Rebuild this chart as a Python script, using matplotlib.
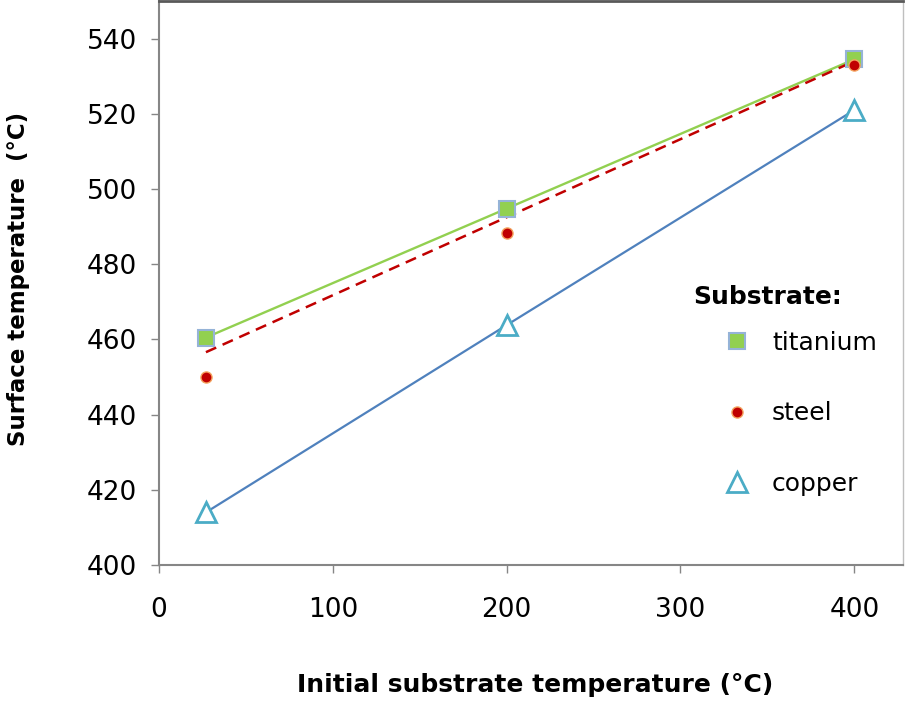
import matplotlib.pyplot as plt
import numpy as np

# substrate temperature (x) and surface temperature (y)
x_init = [27, 200, 400]
titanium = [460.5, 494.8, 534.5]
steel = [450.0, 488.4, 533.0]
copper = [414.0, 463.8, 521.0]

# dashed model line for steel (end points)
steel_line_x = [27, 400]
steel_line_y = [456.6, 534.0]

x_ticks = [0, 100, 200, 300, 400]
y_ticks = [400, 420, 440, 460, 480, 500, 520, 540]

plt.rcParams['font.family'] = ['DejaVu Sans']

fig = plt.figure(figsize=(9.05, 7.01), dpi=100)
ax = fig.add_axes([159 / 905, 136 / 701, 744 / 905, 564 / 701])

# lines
ax.plot(x_init, titanium, color="#92D050", lw=1.7, zorder=2)
ax.plot(steel_line_x, steel_line_y, color="#C00000", lw=1.8, ls=(0, (4.5, 2.8)), zorder=2)
ax.plot(x_init, copper, color="#4F81BD", lw=1.6, zorder=2)

# markers
ax.plot(x_init, titanium, ls="none", marker="s", ms=11, mfc="#92D050",
        mec="#95B3D7", mew=1.5, label="titanium", zorder=3)
ax.plot(x_init, steel, ls="none", marker="o", ms=8, mfc="#C00000",
        mec="#F4A460", mew=1.0, label="steel", zorder=4)
ax.plot(x_init, copper, ls="none", marker="^", ms=14, mfc="white",
        mec="#4BACC6", mew=2.0, label="copper", zorder=3)

ax.set_xlim(0, 428)
ax.set_ylim(400, 550)
ax.set_xticks(x_ticks)
ax.set_yticks(y_ticks)
ax.tick_params(axis="both", direction="out", length=6, width=1, color="#868686",
               labelsize=19, labelcolor="black")
ax.tick_params(axis="x", pad=17)
ax.tick_params(axis="y", pad=10)

for s in ["left", "bottom"]:
    ax.spines[s].set_color("#868686")
    ax.spines[s].set_linewidth(1.5)
ax.spines["top"].set_color("#595959")
ax.spines["top"].set_linewidth(2)
ax.spines["right"].set_color("#BFBFBF")
ax.spines["right"].set_linewidth(1)

ax.set_xlabel("Initial substrate temperature (°C)", fontsize=18, fontweight="bold")
ax.set_ylabel("Surface temperature  (°C)", fontsize=16.5, fontweight="bold")
ax.xaxis.set_label_coords((535 - 159) / 744, -(673 - 565) / 564)
ax.yaxis.set_label_coords(-(159 - 30) / 744, (565 - 279) / 564)

# legend title drawn as plain text, entries via legend
ax.text((693 - 159) / 744, (565 - 297) / 564, "Substrate:", transform=ax.transAxes,
        fontsize=18, fontweight="bold", ha="left", va="center")
leg = ax.legend(loc="upper left", bbox_to_anchor=((712 - 159) / 744, (565 - 331) / 564),
                frameon=False, fontsize=18, labelspacing=1.86, handletextpad=0.4,
                borderpad=0, borderaxespad=0)

fig.savefig("out.png", dpi=100)
